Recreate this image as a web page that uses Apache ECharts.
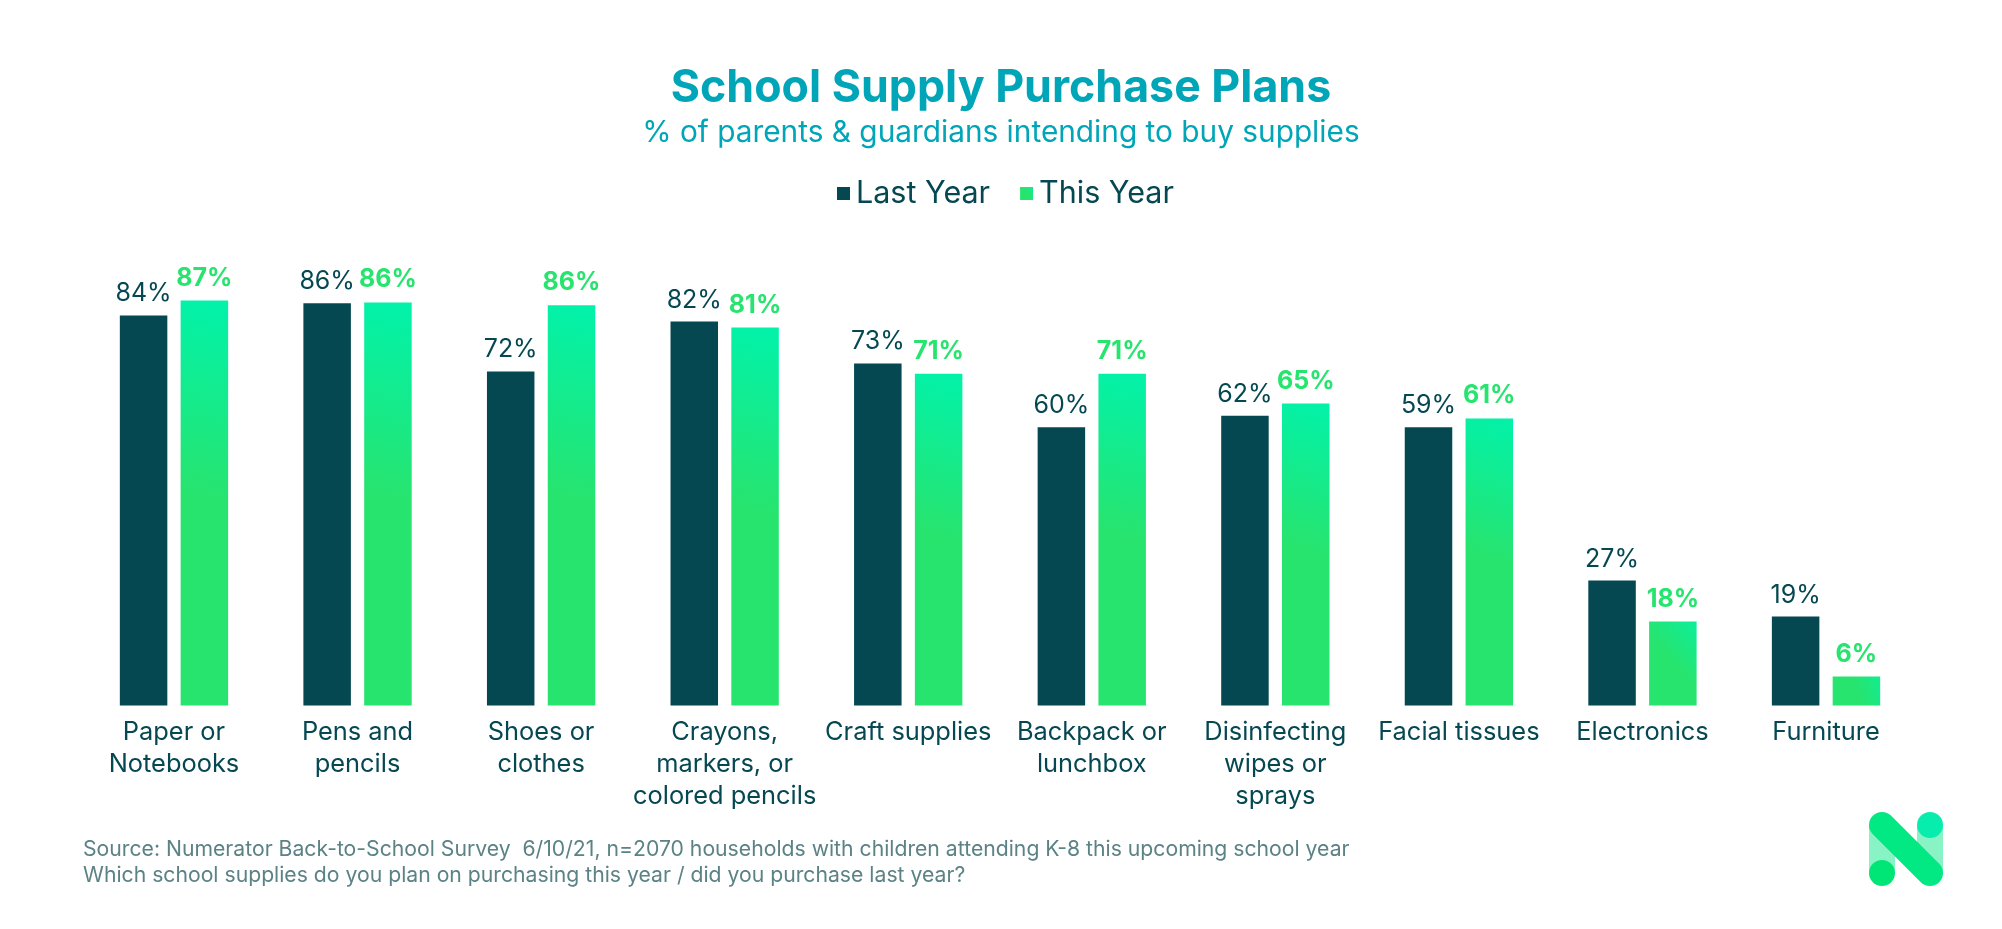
<!DOCTYPE html>
<html><head><meta charset="utf-8">
<style>html,body{margin:0;padding:0;background:#fff}#c{width:2002px;height:929px}</style>
<script src="https://cdn.jsdelivr.net/npm/echarts@6/dist/echarts.min.js"></script>
</head><body><div id="c"></div>
<script>
const categories = ["Paper or\nNotebooks","Pens and\npencils","Shoes or\nclothes","Crayons,\nmarkers, or\ncolored pencils","Craft supplies","Backpack or\nlunchbox","Disinfecting\nwipes or\nsprays","Facial tissues","Electronics","Furniture"];
const lastYear = [83.7,86.3,71.7,82.4,73.4,59.7,62.2,59.7,26.8,19.1];
const thisYear = [86.9,86.5,85.9,81.1,71.2,71.2,64.8,61.6,18.0,6.2];
const lastYearLabels = ["84%","86%","72%","82%","73%","60%","62%","59%","27%","19%"];
const thisYearLabels = ["87%","86%","86%","81%","71%","71%","65%","61%","18%","6%"];
const titleText = "School Supply Purchase Plans";
const subtitleText = "% of parents & guardians intending to buy supplies";
const sourceText = "Source: Numerator Back-to-School Survey  6/10/21, n=2070 households with children attending K-8 this upcoming school year\nWhich school supplies do you plan on purchasing this year / did you purchase last year?";

const DARK="#054852", GREEN="#27E46F", FONT="Inter";
const grad=new echarts.graphic.LinearGradient(1.5,0,-0.5,1,[{offset:0.03,color:"#02F2A9"},{offset:0.48,color:GREEN},{offset:1,color:GREEN}]);
const chart=echarts.init(document.getElementById('c'),null,{renderer:'canvas'});
chart.setOption({
  animation:false,
  backgroundColor:"#fff",
  textStyle:{fontFamily:FONT},
  title:[
    {text:titleText,left:'center',top:61,textStyle:{fontFamily:FONT,fontWeight:700,fontSize:44.7,color:"#00A5B8"}},
    {text:subtitleText,left:'center',top:113,textStyle:{fontFamily:FONT,fontWeight:400,fontSize:29.8,color:"#00A5B8"}}
  ],
  legend:{left:832,top:173,itemWidth:13,itemHeight:13,itemGap:30,icon:'rect',
    textStyle:{fontFamily:FONT,fontSize:30.5,color:DARK,padding:[0,0,0,1]},
    data:["Last Year","This Year"]},
  grid:{left:82.2,width:1835.6,top:239.5,height:466,containLabel:false},
  xAxis:{type:'category',data:categories,axisLine:{show:false},axisTick:{show:false},
    axisLabel:{interval:0,margin:11,fontFamily:FONT,fontSize:25.4,lineHeight:32,color:DARK,align:'center',verticalAlign:'top'}},
  yAxis:{type:'value',min:0,max:100,show:false,splitLine:{show:false}},
  series:[
    {name:"Last Year",type:'bar',data:lastYear,barWidth:47.5,barGap:'28%',itemStyle:{color:DARK},
     label:{show:true,position:'top',distance:9,fontFamily:FONT,fontSize:25,color:DARK,formatter:p=>lastYearLabels[p.dataIndex]}},
    {name:"This Year",type:'bar',data:thisYear,barWidth:47.5,itemStyle:{color:grad},
     label:{show:true,position:'top',distance:10,fontFamily:FONT,fontWeight:700,fontSize:25,color:GREEN,formatter:p=>thisYearLabels[p.dataIndex]}}
  ],
  graphic:[
    {type:'text',left:83,top:837,style:{text:sourceText,fontFamily:FONT,fontSize:21.2,lineHeight:25.5,fill:"#5B8285"}},
    {type:'rect',shape:{x:1869,y:825,width:26,height:48},style:{fill:"#88F3C4"}},
    {type:'rect',shape:{x:1917,y:825,width:26,height:48},style:{fill:"#88F3C4"}},
    {type:'circle',shape:{cx:1882,cy:873,r:13},style:{fill:"#00E676"}},
    {type:'circle',shape:{cx:1930,cy:825,r:13},style:{fill:"#06EDAE"}},
    {type:'line',shape:{x1:1882,y1:825,x2:1930,y2:873},style:{stroke:"#02E882",lineWidth:26,lineCap:'round'}}
  ]
});
</script></body></html>
